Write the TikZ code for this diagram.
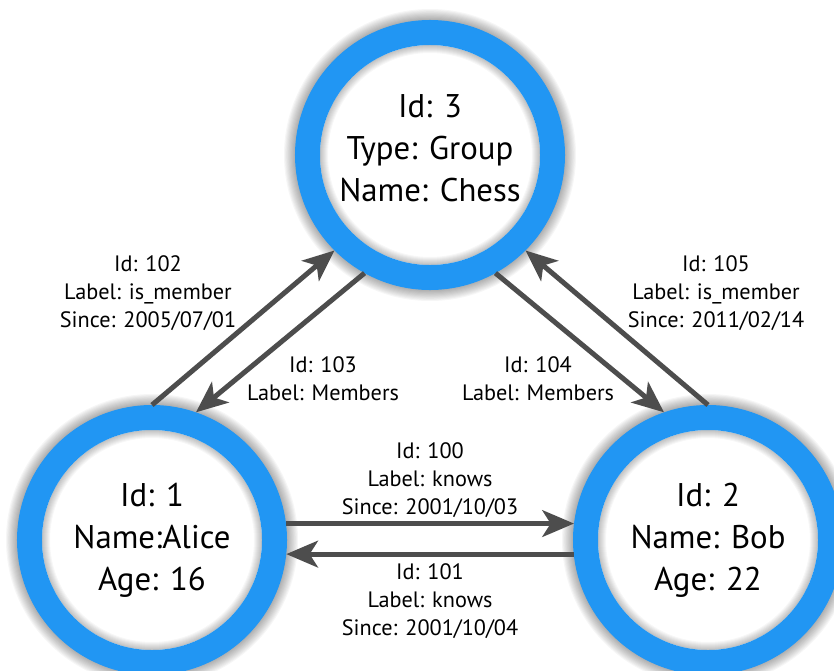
\documentclass[tikz,border=0pt]{standalone}
\usepackage{fontspec}
\setmainfont{PT Sans}
\usetikzlibrary{arrows.meta,backgrounds}
\definecolor{ringblue}{RGB}{33,150,243}
\definecolor{edgegray}{RGB}{77,77,77}
\tikzset{vertex/.style={circle, draw=ringblue, line width=0.75cm, minimum size=7.35cm, inner sep=0pt, align=center, font=\fontsize{28}{36}\selectfont}}
\tikzset{rel/.style={draw=edgegray, line width=0.15cm, -{Stealth[length=0.95cm,width=0.8cm,inset=0.25cm]}}}
\tikzset{info/.style={align=center, font=\fontsize{19}{24}\selectfont}}

\begin{document}
\begin{tikzpicture}[x=0.03cm,y=-0.03cm]
    \useasboundingbox (0,0) rectangle (834,671);
    \node[vertex] at (430,155) (id3) {Id: 3\\Type: Group\\Name: Chess\\[-24pt]};
    \node[vertex] at (152,540) (id1) {Id: 1\\Name:Alice\\Age: 16};
    \node[vertex] at (708,540) (id2) {Id: 2\\Name: Bob\\Age: 22};

    \draw[rel] (id1.7) -- (id2.173);
    \draw[rel] (id2.186) -- (id1.354);
    \draw[rel] (id1.90) -- (id3.225);
    \draw[rel] (id3.241) -- (id1.71);
    \draw[rel] (id3.299) -- (id2.109);
    \draw[rel] (id2.90) -- (id3.315);

    \node[info] at (148,293) (l102) {Id: 102\\Label: is\_member\\Since: 2005/07/01};
    \node[info] at (323,379) (l103) {Id: 103\\Label: Members};
    \node[info] at (538,379) (l104) {Id: 104\\Label: Members};
    \node[info] at (716,293) (l105) {Id: 105\\Label: is\_member\\Since: 2011/02/14};
    \node[info] at (430,480) (l100) {Id: 100\\Label: knows\\Since: 2001/10/03};
    \node[info] at (430,601) (l101) {Id: 101\\Label: knows\\Since: 2001/10/04};

    \begin{scope}[on background layer]
    \foreach \n in {id1,id2,id3} {
        \foreach \k in {1,...,10}
            \fill[black, opacity=0.035] (\n.center) circle[radius=135+1.1*\k];
        \fill[white] (\n.center) circle[radius=124];
        \foreach \k in {1,...,8}
            \fill[black, opacity=0.03, even odd rule] (\n.center) circle[radius=110] circle[radius=110-\k];
    }
    \end{scope}
\end{tikzpicture}
\end{document}
